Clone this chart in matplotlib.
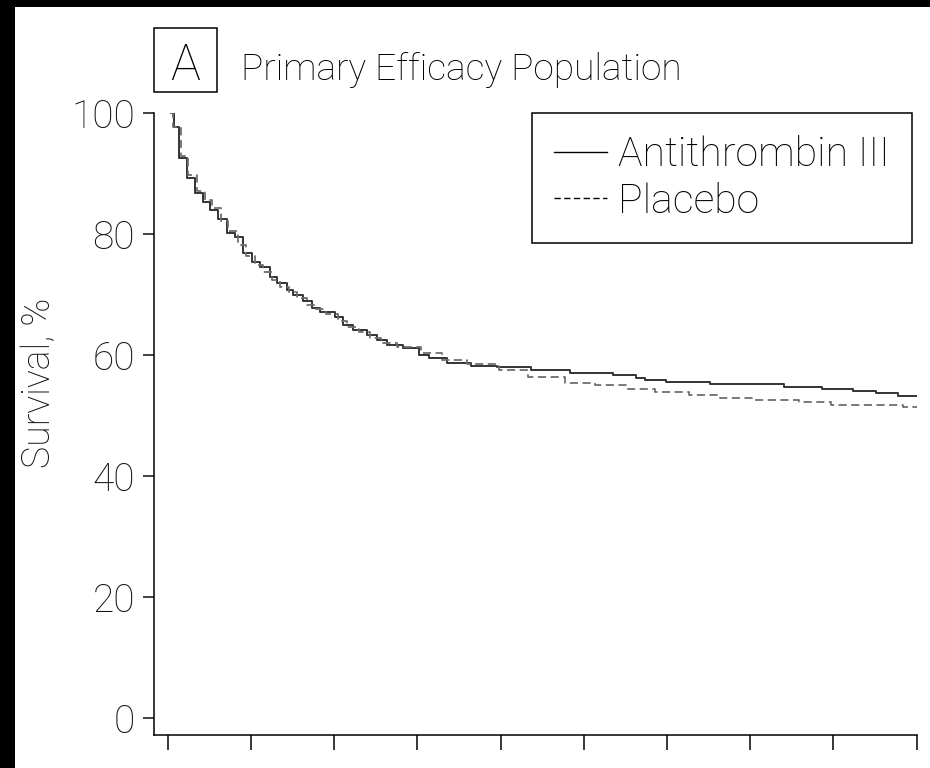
import matplotlib
matplotlib.use("Agg")
import matplotlib.pyplot as plt
from matplotlib.patches import Rectangle

# Kaplan-Meier curves (days, survival %)
at_days = [0.4, 0.8, 1.4, 2.3, 3.3, 4.3, 5.1, 6.1, 7.1, 8.1, 9.1, 10.1, 11.1, 12.3,
           13.1, 14.3, 15.1, 16.3, 17.3, 18.3, 20.1, 21.1, 22.3, 23.9, 25.1, 26.3,
           28.3, 30.2, 31.4, 33.6, 36.5, 39.6, 43.6, 48.4, 53.5, 56.3, 57.4, 59.9,
           65.2, 74.1, 78.6, 82.3, 85.1, 87.7, 90.0]
at_surv = [100.0, 97.8, 92.6, 89.3, 86.8, 85.4, 84.0, 82.6, 80.2, 79.6, 76.9, 75.5,
           74.6, 73.0, 71.9, 70.8, 70.0, 68.9, 67.8, 67.2, 66.4, 65.0, 64.2, 63.4,
           62.5, 61.7, 61.2, 60.0, 59.6, 58.7, 58.3, 58.0, 57.5, 57.1, 56.8, 56.2,
           55.9, 55.6, 55.3, 54.8, 54.4, 54.1, 53.8, 53.3, 53.3]

pl_days = [0.3, 0.7, 1.6, 2.5, 3.5, 4.5, 5.3, 6.4, 7.3, 8.5, 9.4, 10.5, 11.5, 12.6,
           13.5, 14.6, 15.5, 16.7, 17.6, 19.0, 20.5, 21.6, 23.0, 24.3, 25.6, 27.5,
           30.5, 33.0, 36.0, 39.8, 43.3, 47.8, 51.4, 55.3, 58.6, 62.7, 66.4, 70.5,
           75.8, 79.7, 88.4, 90.0]
pl_surv = [100.0, 97.8, 93.0, 89.8, 87.2, 85.6, 84.3, 82.2, 80.6, 78.3, 76.4, 75.0,
           73.8, 72.4, 71.3, 70.4, 69.4, 68.3, 67.6, 66.8, 65.6, 64.6, 63.8, 62.9,
           62.0, 61.4, 60.4, 59.3, 58.5, 57.6, 56.4, 55.5, 55.1, 54.5, 54.0, 53.5,
           52.9, 52.6, 52.3, 51.8, 51.4, 51.4]

y_ticks = [0, 20, 40, 60, 80, 100]
x_ticks = list(range(0, 91, 10))
labels = ["Antithrombin III", "Placebo"]
panel = "A"
title = "Primary Efficacy Population"

plt.rcParams["font.family"] = ["Roboto", "DejaVu Sans"]
plt.rcParams["font.weight"] = "light"
plt.rcParams["axes.labelweight"] = "light"

W, H = 930, 768
fig = plt.figure(figsize=(W / 100, H / 100), dpi=100)
fig.patch.set_facecolor("white")

ax = fig.add_axes([154.3 / W, 1 - 735 / H, (916.7 - 154.3) / W, (735 - 113.3) / H])
ax.step(at_days, at_surv, where="post", color="#333333", lw=1.4, label=labels[0])
ax.step(pl_days, pl_surv, where="post", color="#6e6e6e", lw=1.3,
        dashes=(4.5, 2.5), label=labels[1])

ax.set_xlim(-1.6, 90)
ax.set_ylim(-2.75, 100)
ax.set_xticks(x_ticks)
ax.set_yticks(y_ticks)
ax.tick_params(axis="x", length=11, width=1.1, labelbottom=False)
ax.tick_params(axis="y", length=8, width=1.1, pad=6, labelsize=28, colors="#111111")
for s in ["top", "right"]:
    ax.spines[s].set_visible(False)
for s in ["left", "bottom"]:
    ax.spines[s].set_linewidth(1.1)
ax.set_ylabel("Survival, %", fontsize=27, color="#111111")
ax.yaxis.set_label_coords(-0.126, 0.566)

leg = ax.legend(loc="upper right", bbox_to_anchor=(912 / W, 1 - 113 / H),
                bbox_transform=fig.transFigure, borderaxespad=0, fontsize=29.5,
                frameon=True, fancybox=False, framealpha=1, edgecolor="black",
                borderpad=0.55, handlelength=1.3, handletextpad=0.25, labelspacing=0.2)
leg.get_frame().set_linewidth(1.1)
for h in leg.get_lines():
    h.set_color("black")
    h.set_linewidth(1.0)

# panel letter in a box, then the title
fig.patches.append(Rectangle((154 / W, 1 - 92 / H), 63 / W, 64 / H, transform=fig.transFigure,
                             fill=False, ec="black", lw=1.1))
fig.text(185.5 / W, 1 - 80 / H, panel, ha="center", va="baseline", fontsize=36)
fig.text(241 / W, 1 - 80 / H, title, ha="left", va="baseline", fontsize=26.7)

# dark strips along the top and left edge
fig.patches.append(Rectangle((0, 1 - 7 / H), 1, 7 / H, transform=fig.transFigure,
                             fc="black", ec="none"))
fig.patches.append(Rectangle((0, 0), 15 / W, 1, transform=fig.transFigure,
                             fc="black", ec="none"))

fig.savefig("out.png", dpi=100)
